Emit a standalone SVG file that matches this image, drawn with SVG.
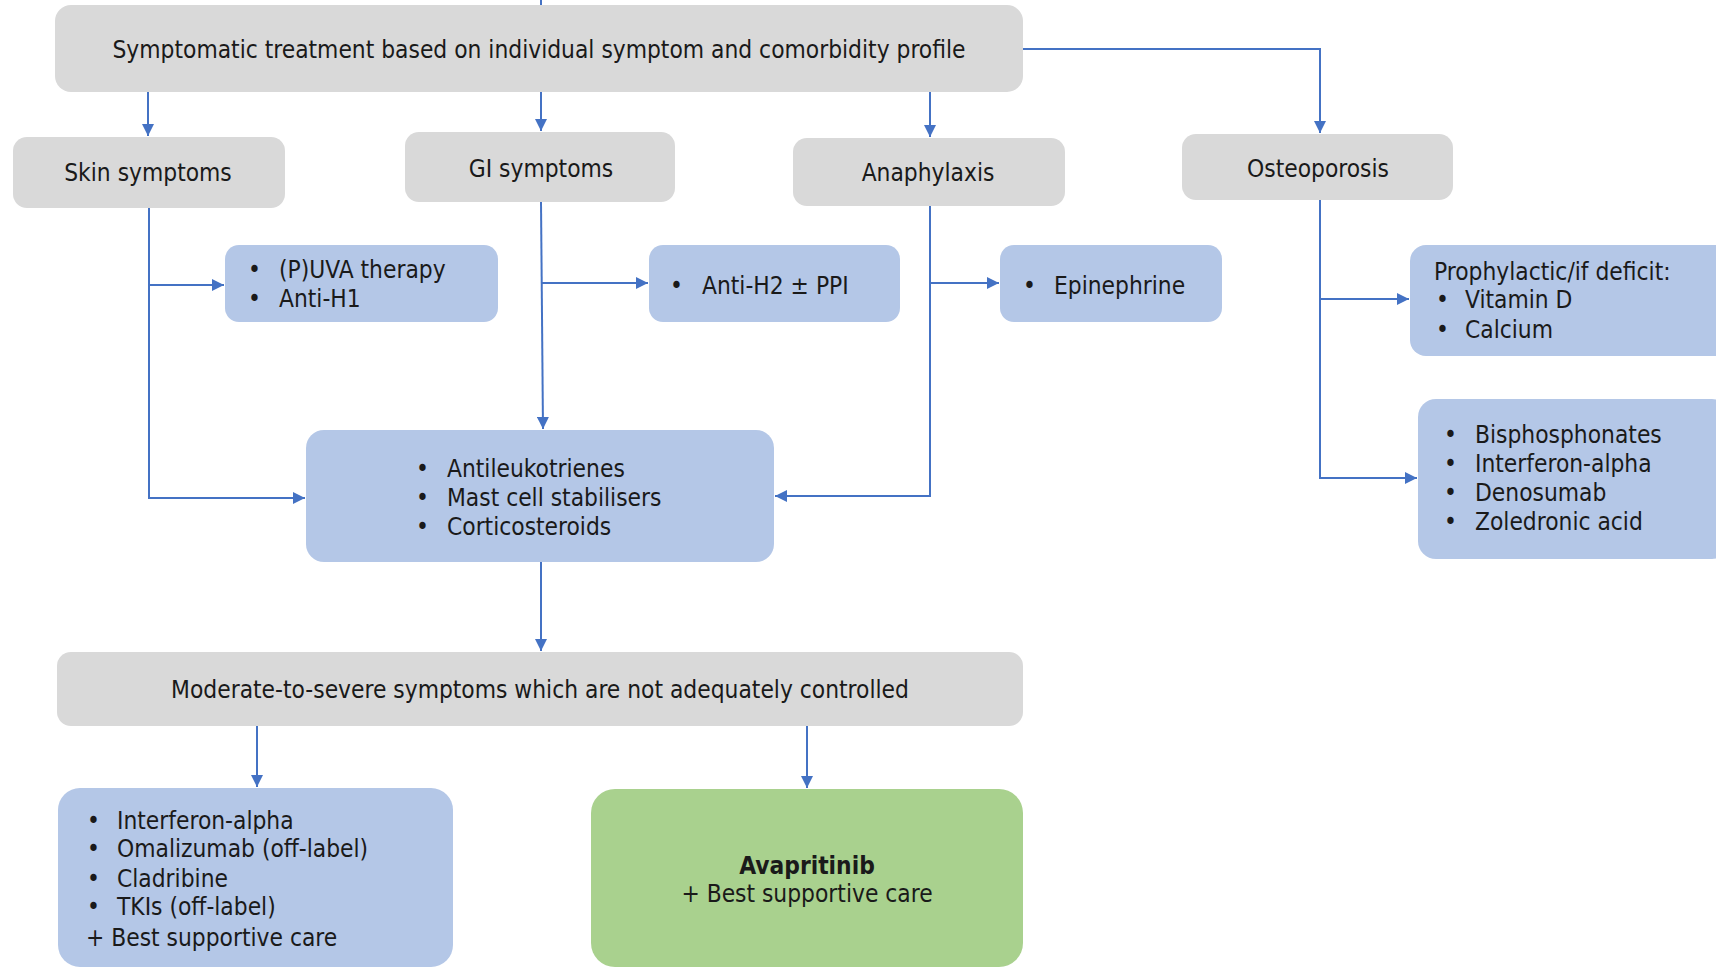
<svg xmlns="http://www.w3.org/2000/svg" width="1716" height="969" viewBox="0 0 1716 969">
<defs>
<style>
.gray{fill:#D9D9D9}
.blue{fill:#B4C7E7}
.green{fill:#A9D18E}
text{font-family:'DejaVu Sans Condensed','DejaVu Sans',sans-serif;font-stretch:condensed;font-size:24.3px;fill:#1a1a1a}
.c{text-anchor:middle}
.b{font-weight:bold}
.con{fill:none;stroke:#4472C4;stroke-width:2}
</style>
<marker id="arr" viewBox="0 0 10 10" refX="10" refY="5" markerWidth="13" markerHeight="12" markerUnits="userSpaceOnUse" orient="auto">
<path d="M0,0 L10,5 L0,10 z" fill="#4472C4"/>
</marker>
</defs>
<rect width="1716" height="969" fill="#ffffff"/>

<g id="connectors">
<path class="con" d="M541,0 V6"/>
<path class="con" d="M148,92 V136" marker-end="url(#arr)"/>
<path class="con" d="M541,92 V131" marker-end="url(#arr)"/>
<path class="con" d="M930,92 V137" marker-end="url(#arr)"/>
<path class="con" d="M1023,49 H1320 V133" marker-end="url(#arr)"/>
<path class="con" d="M149,208 V498 H305" marker-end="url(#arr)"/>
<path class="con" d="M149,285 H224" marker-end="url(#arr)"/>
<path class="con" d="M541,202 L543,429" marker-end="url(#arr)"/>
<path class="con" d="M541,283 H648" marker-end="url(#arr)"/>
<path class="con" d="M930,206 V496 H775" marker-end="url(#arr)"/>
<path class="con" d="M930,283 H999" marker-end="url(#arr)"/>
<path class="con" d="M1320,200 V478 H1417" marker-end="url(#arr)"/>
<path class="con" d="M1320,299 H1409" marker-end="url(#arr)"/>
<path class="con" d="M541,562 V651" marker-end="url(#arr)"/>
<path class="con" d="M257,726 V787" marker-end="url(#arr)"/>
<path class="con" d="M807,726 V788" marker-end="url(#arr)"/>
</g>

<g id="top">
<rect class="gray" x="55" y="5" width="968" height="87" rx="16"/>
<text class="c" x="539" y="58">Symptomatic treatment based on individual symptom and comorbidity profile</text>
</g>

<g id="skin">
<rect class="gray" x="13" y="137" width="272" height="71" rx="14"/>
<text class="c" x="148" y="181">Skin symptoms</text>
</g>

<g id="gi">
<rect class="gray" x="405" y="132" width="270" height="70" rx="14"/>
<text class="c" x="541" y="177">GI symptoms</text>
</g>

<g id="anaphylaxis">
<rect class="gray" x="793" y="138" width="272" height="68" rx="14"/>
<text class="c" x="928" y="181">Anaphylaxis</text>
</g>

<g id="osteoporosis">
<rect class="gray" x="1182" y="134" width="271" height="66" rx="14"/>
<text class="c" x="1318" y="177">Osteoporosis</text>
</g>

<g id="puva">
<rect class="blue" x="225" y="245" width="273" height="77" rx="14"/>
<text x="248" y="278">•</text><text x="279" y="278">(P)UVA therapy</text>
<text x="248" y="307">•</text><text x="279" y="307">Anti-H1</text>
</g>

<g id="antih2">
<rect class="blue" x="649" y="245" width="251" height="77" rx="14"/>
<text x="670" y="294">•</text><text x="702" y="294">Anti-H2 ± PPI</text>
</g>

<g id="epinephrine">
<rect class="blue" x="1000" y="245" width="222" height="77" rx="14"/>
<text x="1023" y="294">•</text><text x="1054" y="294">Epinephrine</text>
</g>

<g id="prophylactic">
<rect class="blue" x="1410" y="245" width="320" height="111" rx="16"/>
<text x="1434" y="280">Prophylactic/if deficit:</text>
<text x="1436" y="308">•</text><text x="1465" y="308">Vitamin D</text>
<text x="1436" y="338">•</text><text x="1465" y="338">Calcium</text>
</g>

<g id="bisphos">
<rect class="blue" x="1418" y="399" width="312" height="160" rx="18"/>
<text x="1444" y="443">•</text><text x="1475" y="443">Bisphosphonates</text>
<text x="1444" y="472">•</text><text x="1475" y="472">Interferon-alpha</text>
<text x="1444" y="501">•</text><text x="1475" y="501">Denosumab</text>
<text x="1444" y="530">•</text><text x="1475" y="530">Zoledronic acid</text>
</g>

<g id="antileuk">
<rect class="blue" x="306" y="430" width="468" height="132" rx="18"/>
<text x="416" y="477">•</text><text x="447" y="477">Antileukotrienes</text>
<text x="416" y="506">•</text><text x="447" y="506">Mast cell stabilisers</text>
<text x="416" y="535">•</text><text x="447" y="535">Corticosteroids</text>
</g>

<g id="moderate">
<rect class="gray" x="57" y="652" width="966" height="74" rx="14"/>
<text class="c" x="540" y="698">Moderate-to-severe symptoms which are not adequately controlled</text>
</g>

<g id="options">
<rect class="blue" x="58" y="788" width="395" height="179" rx="22"/>
<text x="87" y="829">•</text><text x="117" y="829">Interferon-alpha</text>
<text x="87" y="857">•</text><text x="117" y="857">Omalizumab (off-label)</text>
<text x="87" y="887">•</text><text x="117" y="887">Cladribine</text>
<text x="87" y="915">•</text><text x="117" y="915">TKIs (off-label)</text>
<text x="86" y="946">+ Best supportive care</text>
</g>

<g id="avapritinib">
<rect class="green" x="591" y="789" width="432" height="178" rx="24"/>
<text class="c b" x="807" y="874">Avapritinib</text>
<text class="c" x="807" y="902">+ Best supportive care</text>
</g>
</svg>
